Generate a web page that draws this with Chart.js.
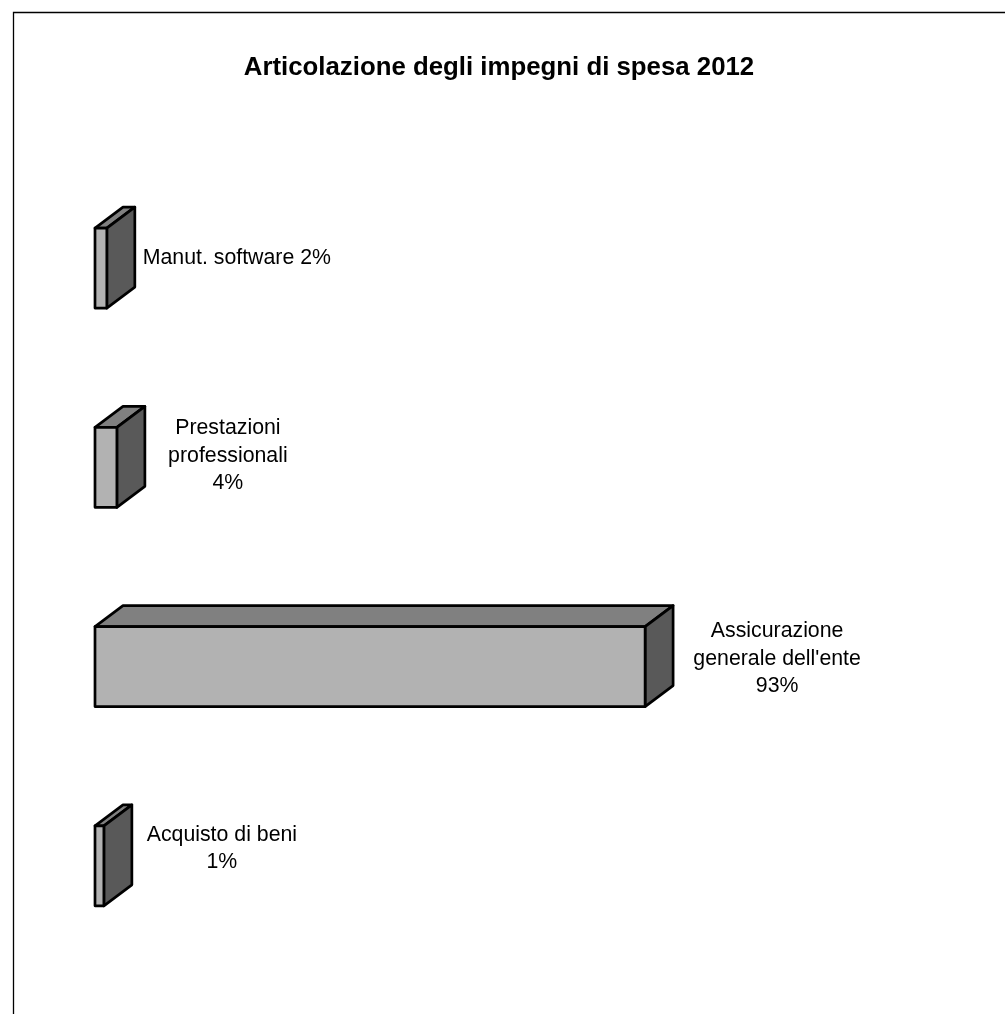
<!DOCTYPE html>
<html>
<head>
<meta charset="utf-8">
<title>Articolazione degli impegni di spesa 2012</title>
<script src="https://cdn.jsdelivr.net/npm/chart.js@4"></script>
<style>
  html, body { margin: 0; padding: 0; background: #fff; overflow: hidden; }
  canvas { display: block; }
</style>
</head>
<body>
<canvas id="grafico" width="1005" height="1014"></canvas>
<script>
const titolo = 'Articolazione degli impegni di spesa 2012';
const categorie = ['Manut. software', 'Prestazioni professionali', "Assicurazione generale dell'ente", 'Acquisto di beni'];
const valori = [2, 3.7, 93, 1.5];
const etichette = [
  ['Manut. software 2%'],
  ['Prestazioni', 'professionali', '4%'],
  ['Assicurazione', "generale dell'ente", '93%'],
  ['Acquisto di beni', '1%']
];

const FONT = '"Liberation Sans", Arial, sans-serif';

// finta prospettiva: faccia superiore e laterale dietro ogni barra
const barre3d = {
  id: 'barre3d',
  beforeDatasetsDraw(chart, args, opts) {
    const ctx = chart.ctx;
    chart.getDatasetMeta(0).data.forEach(bar => {
      const x0 = bar.base, x1 = bar.x;
      const y0 = bar.y - bar.height / 2, y1 = bar.y + bar.height / 2;
      const dx = opts.dx, dy = opts.dy;
      ctx.save();
      ctx.lineWidth = opts.lineWidth;
      ctx.strokeStyle = '#000';
      ctx.lineJoin = 'round';
      ctx.fillStyle = '#808080';
      ctx.beginPath();
      ctx.moveTo(x0, y0);
      ctx.lineTo(x0 + dx, y0 - dy);
      ctx.lineTo(x1 + dx, y0 - dy);
      ctx.lineTo(x1, y0);
      ctx.closePath();
      ctx.fill();
      ctx.stroke();
      ctx.fillStyle = '#595959';
      ctx.beginPath();
      ctx.moveTo(x1, y0);
      ctx.lineTo(x1 + dx, y0 - dy);
      ctx.lineTo(x1 + dx, y1 - dy);
      ctx.lineTo(x1, y1);
      ctx.closePath();
      ctx.fill();
      ctx.stroke();
      ctx.restore();
    });
  },
  afterDatasetsDraw(chart, args, opts) {
    const ctx = chart.ctx;
    ctx.save();
    // bordo della faccia frontale centrato sul valore
    ctx.lineWidth = opts.lineWidth;
    ctx.strokeStyle = '#000';
    ctx.lineJoin = 'round';
    chart.getDatasetMeta(0).data.forEach(bar => {
      ctx.strokeRect(bar.base, bar.y - bar.height / 2, bar.x - bar.base, bar.height);
    });
    ctx.font = '21.3px ' + FONT;
    ctx.fillStyle = '#000';
    ctx.textAlign = 'center';
    ctx.textBaseline = 'middle';
    chart.getDatasetMeta(0).data.forEach((bar, i) => {
      const righe = etichette[i];
      const cx = bar.x + opts.dx + opts.labelX[i];
      const cy = bar.y - opts.dy / 2 + opts.labelY[i];
      righe.forEach((riga, r) => {
        ctx.fillText(riga, cx, cy + (r - (righe.length - 1) / 2) * 27.5);
      });
    });
    ctx.restore();
  }
};

// cornice: si vedono solo il lato alto e quello sinistro
const cornice = {
  id: 'cornice',
  beforeDraw(chart) {
    const ctx = chart.ctx;
    ctx.save();
    ctx.strokeStyle = '#000';
    ctx.lineWidth = 1.3;
    ctx.beginPath();
    ctx.moveTo(13.5, chart.height);
    ctx.lineTo(13.5, 12.5);
    ctx.lineTo(chart.width, 12.5);
    ctx.stroke();
    ctx.restore();
  }
};

new Chart(document.getElementById('grafico'), {
  type: 'bar',
  data: {
    labels: categorie,
    datasets: [{
      data: valori,
      backgroundColor: '#b2b2b2',
      borderWidth: 0,
      barThickness: 80
    }]
  },
  options: {
    indexAxis: 'y',
    responsive: false,
    animation: false,
    layout: { padding: { left: 95, right: 102, top: 0, bottom: 48.5 } },
    scales: {
      x: { display: false, min: 0, max: 136.6 },
      y: { display: false }
    },
    plugins: {
      legend: { display: false },
      tooltip: { enabled: false },
      title: {
        display: true,
        text: titolo,
        color: '#000',
        font: { family: FONT, size: 25.8, weight: 'bold', lineHeight: 1.2 },
        padding: { top: 52, bottom: 85.5 }
      },
      barre3d: {
        dx: 28, dy: 21, lineWidth: 2.7,
        labelX: [102, 83, 104, 90],
        labelY: [1, -1, 3, -7]
      }
    }
  },
  plugins: [cornice, barre3d]
});
</script>
</body>
</html>
